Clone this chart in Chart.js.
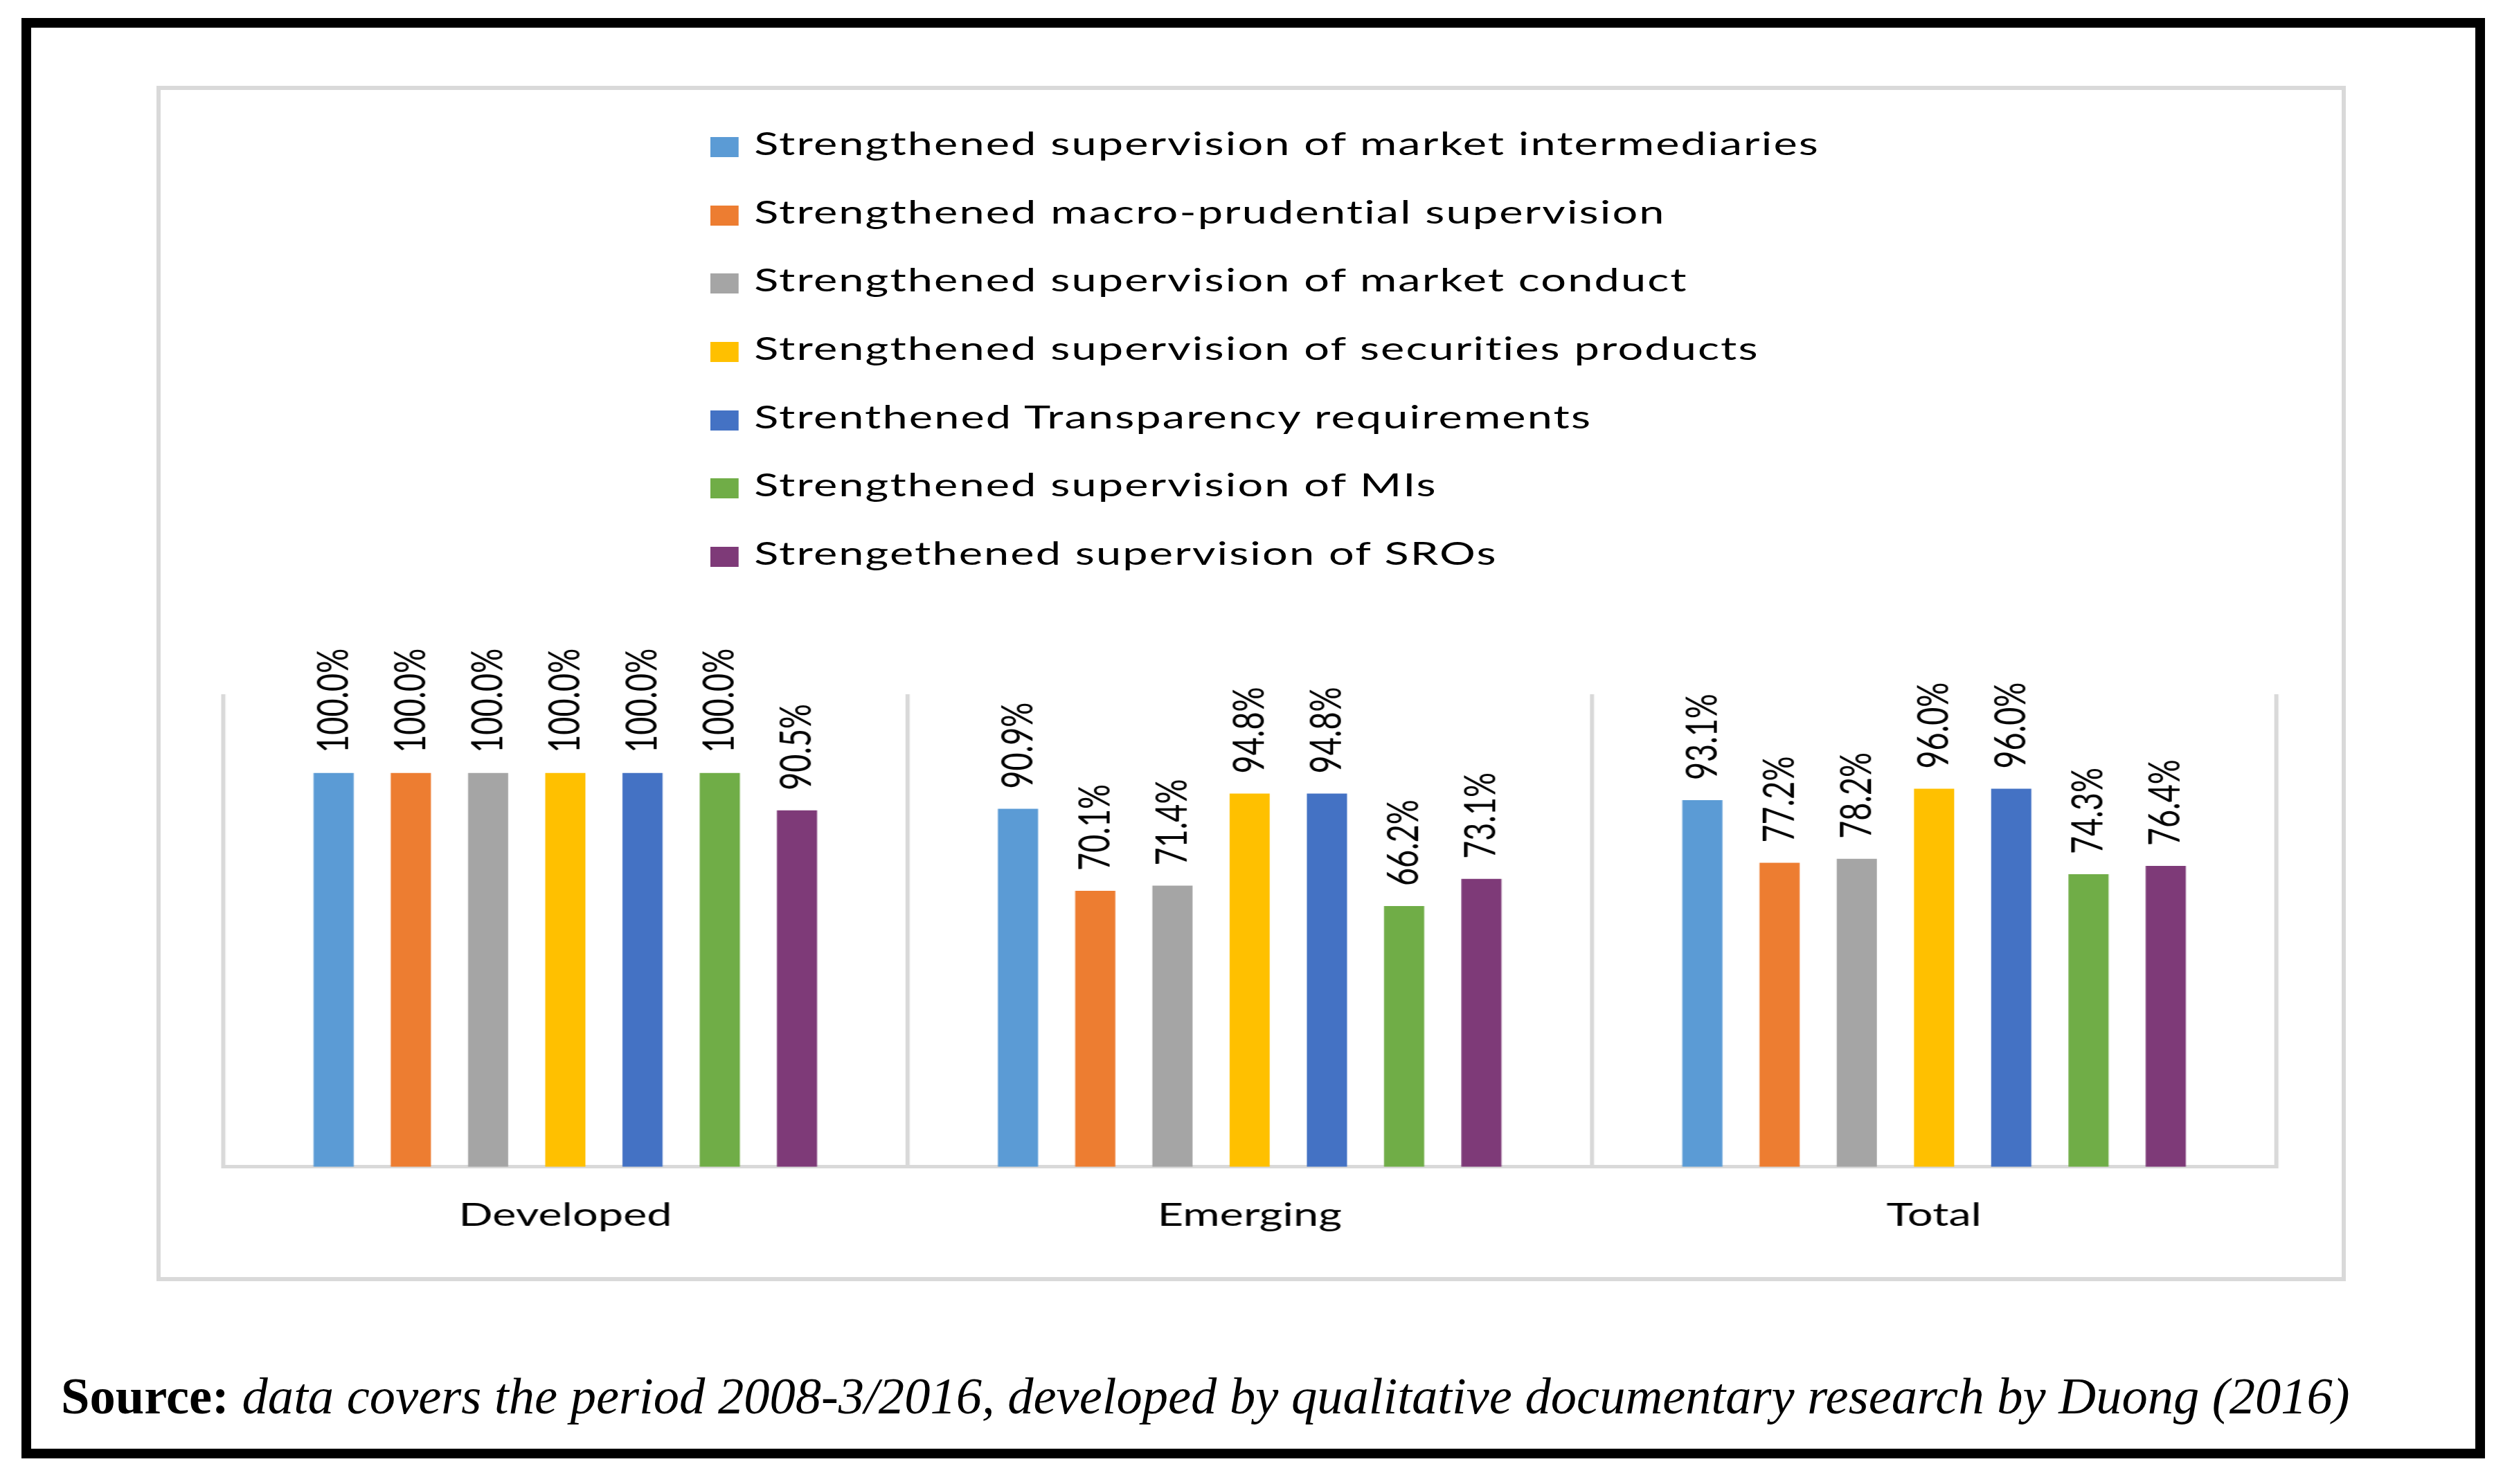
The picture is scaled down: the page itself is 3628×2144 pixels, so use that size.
<!DOCTYPE html>
<html>
<head>
<meta charset="utf-8">
<script src="https://cdn.jsdelivr.net/npm/chart.js@4.4.1/dist/chart.umd.min.js"></script>
<style>
  body { margin: 0; background: #fff; width: 3628px; height: 2144px; position: relative; overflow: hidden; }
  #frame { position: absolute; left: 31px; top: 26px; width: 3558px; height: 2081px; border: 14px solid #000; box-sizing: border-box; }
  #box { position: absolute; left: 226px; top: 124px; width: 3162px; height: 1727px; border: 6px solid #d9d9d9; box-sizing: border-box; }
  /* the original chart is stretched sideways, so the whole chart block is too */
  #stretch { position: absolute; left: 232px; top: 130px; width: 2233px; height: 1715px; transform: scaleX(1.41); transform-origin: 0 0; }
  #chart { position: absolute; left: 0; top: 0; }
  #legend { position: absolute; left: 563px; top: 33px; margin: 0; padding: 0; list-style: none; font-family: Lato, sans-serif; font-size: 46px; letter-spacing: 1.5px; color: #000; }
  #legend li { display: flex; align-items: center; height: 98.7px; white-space: nowrap; }
  #legend .sq { width: 29px; height: 29px; margin-right: 16px; flex: none; }
  #legend .txt { position: relative; top: -6px; }
  #source { position: absolute; left: 88px; top: 1979px; font-family: "Liberation Serif", serif; font-size: 75px; line-height: 1; white-space: nowrap; transform-origin: 0 0; }
</style>
</head>
<body>
<div id="frame"></div>
<div id="box"></div>
<div id="stretch">
  <canvas id="chart" width="2233" height="1715" style="width:2233px;height:1715px"></canvas>
  <ul id="legend"></ul>
</div>
<div id="source"><b>Source:</b> <i>data covers the period 2008-3/2016, developed by qualitative documentary research by Duong (2016)</i></div>

<script>
const categories = ['Developed', 'Emerging', 'Total'];

const seriesNames = [
  'Strengthened supervision of market intermediaries',
  'Strengthened macro-prudential supervision',
  'Strengthened supervision of market conduct',
  'Strengthened supervision of securities products',
  'Strenthened Transparency requirements',
  'Strengthened supervision of MIs',
  'Strengethened supervision of SROs'
];

const intermediaries = [100.0, 90.9, 93.1];
const macroPrudential = [100.0, 70.1, 77.2];
const marketConduct = [100.0, 71.4, 78.2];
const securitiesProducts = [100.0, 94.8, 96.0];
const transparency = [100.0, 94.8, 96.0];
const mis = [100.0, 66.2, 74.3];
const sros = [90.5, 73.1, 76.4];

const seriesValues = [intermediaries, macroPrudential, marketConduct, securitiesProducts, transparency, mis, sros];
const colors = ['#5B9BD5', '#ED7D31', '#A5A5A5', '#FFC000', '#4472C4', '#70AD47', '#7E3A78'];

// legend as html list, one entry per line
const htmlLegend = {
  id: 'htmlLegend',
  afterUpdate(chart) {
    const ul = document.getElementById('legend');
    ul.innerHTML = '';
    const items = chart.options.plugins.legend.labels.generateLabels(chart);
    items.forEach(item => {
      const li = document.createElement('li');
      const sq = document.createElement('span');
      sq.className = 'sq';
      sq.style.background = item.fillStyle;
      const txt = document.createElement('span');
      txt.className = 'txt';
      txt.textContent = item.text;
      li.appendChild(sq);
      li.appendChild(txt);
      ul.appendChild(li);
    });
  }
};

// rotated value labels above each bar
const valueLabels = {
  id: 'valueLabels',
  afterDatasetsDraw(chart) {
    const ctx = chart.ctx;
    chart.data.datasets.forEach((ds, i) => {
      chart.getDatasetMeta(i).data.forEach((bar, j) => {
        ctx.save();
        ctx.translate(bar.x, bar.y - 29);
        ctx.rotate(-Math.PI / 2);
        ctx.font = '45px Lato';
        ctx.fillStyle = '#000';
        ctx.textAlign = 'left';
        ctx.textBaseline = 'middle';
        ctx.fillText(ds.data[j].toFixed(1) + '%', 0, 0);
        ctx.restore();
      });
    });
  }
};

function draw() {
  const chart = document.querySelector('#chart').getContext('2d');
  new Chart(chart, {
    type: 'bar',
    data: {
      labels: categories,
      datasets: seriesNames.map((name, i) => ({
        label: name,
        data: seriesValues[i],
        backgroundColor: colors[i],
        borderWidth: 0,
        categoryPercentage: 0.79,
        barPercentage: 0.52
      }))
    },
    options: {
      responsive: false,
      animation: false,
      layout: { padding: { left: 64, right: 66, top: 873, bottom: 18 } },
      plugins: {
        legend: { display: false },
        tooltip: { enabled: false }
      },
      scales: {
        x: {
          grid: { color: '#d9d9d9', lineWidth: 4.3, drawTicks: false, offset: true },
          border: { color: '#d9d9d9', width: 5 },
          ticks: { color: '#000', font: { family: 'Lato', size: 46 }, padding: 43 }
        },
        y: { display: false, min: 0, max: 120 }
      }
    },
    plugins: [htmlLegend, valueLabels]
  });

  // fit the source line to the width it has in the original
  const src = document.getElementById('source');
  src.style.transform = 'scaleX(' + (3306 / src.offsetWidth) + ')';
}

document.fonts.load('46px Lato').then(draw, draw);
</script>
</body>
</html>
